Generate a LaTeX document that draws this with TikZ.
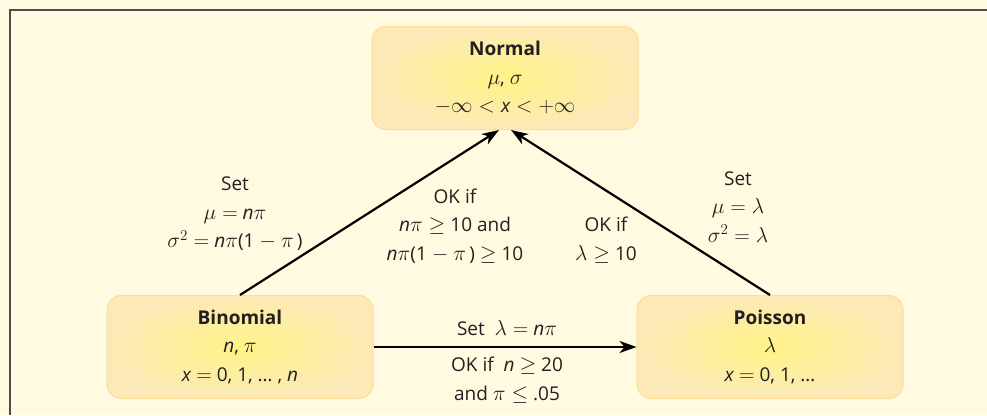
\documentclass[tikz,border=0pt]{standalone}
\usepackage{fix-cm}
\usepackage{fontspec}
\setmainfont{Open Sans}
\DeclareMathSizes{19}{21.5}{15}{11}
\usetikzlibrary{arrows.meta}
\definecolor{bgcream}{RGB}{255,250,224}
\definecolor{boxout}{RGB}{252,233,183}
\definecolor{boxin}{RGB}{255,243,135}
\definecolor{boxedge}{RGB}{255,221,150}
\definecolor{txt}{RGB}{35,31,32}
\tikzset{
  distbox/.style={rounded corners=14pt, draw=boxedge, line width=1pt,
    inner color=boxin, outer color=boxout,
    minimum width=266pt, minimum height=103pt, align=center, text=txt},
  lbl/.style={align=center, text=txt},
  conn/.style={line width=2.2pt, -{Stealth[length=17pt,width=12pt,inset=5pt]}}
}
\newcommand{\vi}[1]{\textit{#1}}
\begin{document}
\begin{tikzpicture}[x=1pt, y=-1pt, font=\fontsize{19}{28.5}\selectfont]
    \useasboundingbox (0,0) rectangle (987,415);
    \fill[bgcream] (0,0) rectangle (987,415);
    % frame
    \draw[black!70, line width=2pt] (987,10) -- (9.5,10) -- (9.5,415);
    % distributions
    \node[distbox] (norm) at (505,78)  {\textbf{Normal}\\ $\mu$, $\sigma$\\ $-\infty<\vi{x}<+\infty$};
    \node[distbox] (bin)  at (240,347) {\textbf{Binomial}\\ \vi{n}, $\pi$\\ \vi{x} $=$ 0, 1, \dots\ , \vi{n}};
    \node[distbox] (poi)  at (770,347) {\textbf{Poisson}\\ $\lambda$\\ \vi{x} $=$ 0, 1, \dots};
    % connectors
    \draw[conn] (bin.north) -- ([xshift=-6pt]norm.south);
    \draw[conn] (poi.north) -- ([xshift=6pt]norm.south);
    \draw[conn] (bin.east) -- (poi.west);
    % labels
    \node[lbl] (setbin) at (235,214) {Set\\ $\mu=$ \vi{n}$\pi$\\ $\sigma^2=$ \vi{n}$\pi$(1 $-$ $\pi$\,)};
    \node[lbl] (okbin)  at (455,226) {OK if\\ \vi{n}$\pi\geq$ 10 and\\ \vi{n}$\pi$(1 $-$ $\pi$\,) $\geq$ 10};
    \node[lbl] (okpoi)  at (606,240) {OK if\\ $\lambda\geq$ 10};
    \node[lbl] (setpoi) at (738,207) {Set\\ $\mu=\lambda$\\ $\sigma^2=\lambda$};
    \node[lbl] (setlam) at (507,328) {Set \ $\lambda=$ \vi{n}$\pi$};
    \node[lbl] (okbot)  at (507,380) {OK if \ \vi{n} $\geq$ 20\\ and $\pi\leq$ .05};
\end{tikzpicture}
\end{document}
